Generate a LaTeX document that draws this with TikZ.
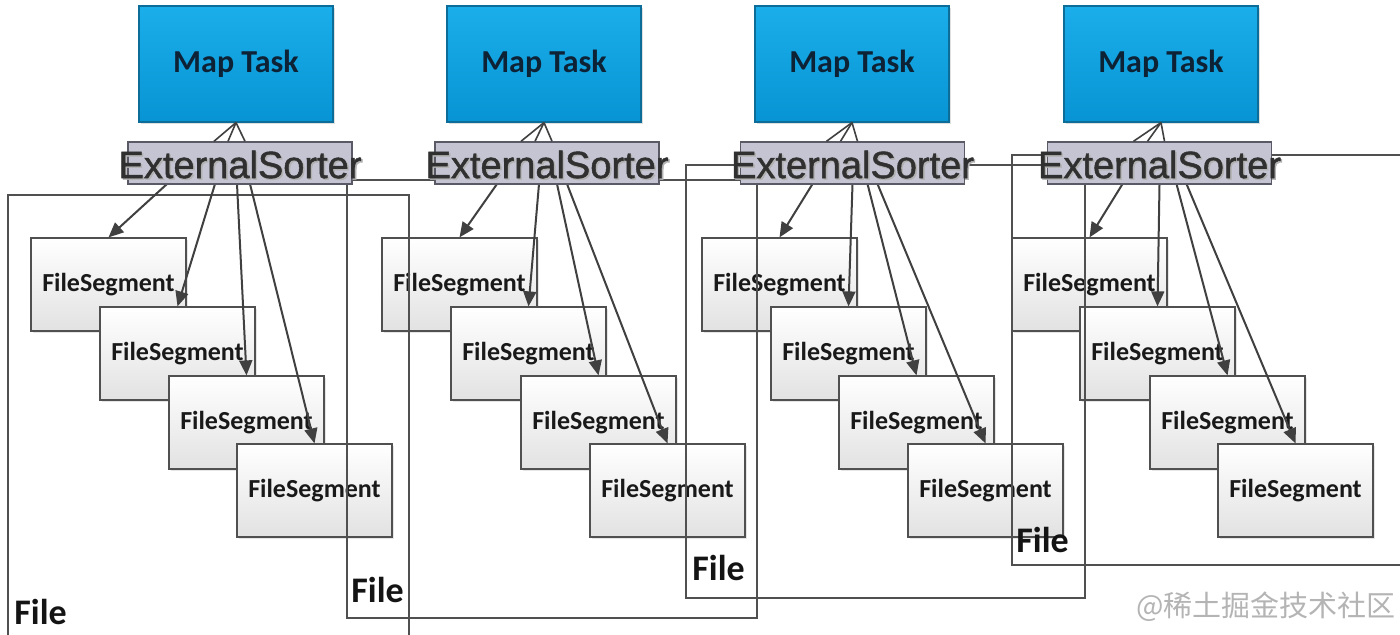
\documentclass[tikz,border=0pt]{standalone}
\usepackage{fontspec}
\setmainfont{Carlito}
\newfontfamily\esfont[FakeBold=1.2]{Liberation Sans}
\newfontfamily\cjk{Noto Sans CJK SC}
\usetikzlibrary{arrows.meta,calc,shadows}
\definecolor{mtTop}{HTML}{1AAEEA}
\definecolor{mtBot}{HTML}{0894D4}
\definecolor{mtBorder}{HTML}{0C6E98}
\definecolor{mtText}{HTML}{0E2236}
\definecolor{esFill}{HTML}{C4C4D2}
\definecolor{esBorder}{HTML}{5A5A66}
\definecolor{esText}{HTML}{303030}
\definecolor{fsBot}{HTML}{E2E2E2}
\definecolor{lineGray}{HTML}{505050}
\definecolor{arrowGray}{HTML}{404040}
\definecolor{wmGray}{HTML}{B4B4B4}
\begin{document}
\begin{tikzpicture}[x=0.5pt,y=-0.5pt,
  mapbox/.style={draw=mtBorder, line width=0.6pt, top color=mtTop, bottom color=mtBot,
    minimum width=97pt, minimum height=58pt, inner sep=0pt,
    font=\bfseries\fontsize{16}{19}\selectfont, text=mtText,
    drop shadow={shadow xshift=1.2pt, shadow yshift=-1.2pt, opacity=0.25}},
  esbox/.style={draw=esBorder, line width=0.7pt, fill=esFill,
    minimum width=112pt, minimum height=21pt, inner sep=0pt},
  estext/.style={font=\esfont\fontsize{19}{22}\selectfont, text=esText, inner sep=0pt},
  esshadow/.style={font=\esfont\fontsize{19}{22}\selectfont, text=black!30, inner sep=0pt},
  fsbox/.style={draw=lineGray, line width=0.6pt, top color=white, bottom color=fsBot,
    minimum width=77.5pt, minimum height=46.5pt, inner sep=0pt,
    font=\bfseries\fontsize{13}{15}\selectfont, text=black!90,
    drop shadow={shadow xshift=1pt, shadow yshift=-1pt, opacity=0.2}},
  fileframe/.style={draw=lineGray, line width=0.7pt},
  filelbl/.style={font=\bfseries\fontsize{18}{21}\selectfont, text=black!92, inner sep=0pt, anchor=west},
  conn/.style={draw=arrowGray, line width=1pt, -{Triangle[length=7.5pt,width=6.5pt]}},
  upline/.style={draw=arrowGray, line width=0.8pt}
]
\clip (0,0) rectangle (1400,635);
\fill[white] (0,0) rectangle (1400,635);

% FileSegment boxes
\node[fsbox] (fs11) at (108.5,284.5) {FileSegment};
\node[fsbox] (fs12) at (177.5,353.5) {FileSegment};
\node[fsbox] (fs13) at (246.5,422.5) {FileSegment};
\node[fsbox] (fs14) at (314.5,490.5) {FileSegment};
\node[fsbox] (fs21) at (459.5,284.5) {FileSegment};
\node[fsbox] (fs22) at (528.5,353.5) {FileSegment};
\node[fsbox] (fs23) at (598.5,422.5) {FileSegment};
\node[fsbox] (fs24) at (667.5,490.5) {FileSegment};
\node[fsbox] (fs31) at (779.5,284.5) {FileSegment};
\node[fsbox] (fs32) at (848.5,353.5) {FileSegment};
\node[fsbox] (fs33) at (916.5,422.5) {FileSegment};
\node[fsbox] (fs34) at (985.5,490.5) {FileSegment};
\node[fsbox] (fs41) at (1089.5,284.5) {FileSegment};
\node[fsbox] (fs42) at (1157.5,353.5) {FileSegment};
\node[fsbox] (fs43) at (1227.5,422.5) {FileSegment};
\node[fsbox] (fs44) at (1295.5,490.5) {FileSegment};

% File frames
\draw[fileframe] (8,195) rectangle (409,700);
\draw[fileframe] (347,180) rectangle (757,618);
\draw[fileframe] (686,165) rectangle (1085,598);
\draw[fileframe] (1012,155) rectangle (1450,565);
\node[filelbl] (file1) at (14,612) {File};
\node[filelbl] (file2) at (351,590) {File};
\node[filelbl] (file3) at (692,568) {File};
\node[filelbl] (file4) at (1016,540) {File};

% ExternalSorter centres
\coordinate (es1c) at (240,163);
\coordinate (es2c) at (547,163);
\coordinate (es3c) at (852.5,163);
\coordinate (es4c) at (1159.5,163);

% arrows ES -> FS
\draw[conn] ($(es1c)+(-73,21)$) -- (fs11.north);
\draw[conn] ($(es1c)+(-25,21)$) -- (fs12.north);
\draw[conn] ($(es1c)+(-3,21)$) -- (fs13.north);
\draw[conn] ($(es1c)+(10,21)$) -- (fs14.north);
\draw[conn] ($(es2c)+(-50,21)$) -- (fs21.north);
\draw[conn] ($(es2c)+(-8,21)$) -- (fs22.north);
\draw[conn] ($(es2c)+(10,21)$) -- (fs23.north);
\draw[conn] ($(es2c)+(20,21)$) -- (fs24.north);
\draw[conn] ($(es3c)+(-40,21)$) -- (fs31.north);
\draw[conn] ($(es3c)+(0,21)$) -- (fs32.north);
\draw[conn] ($(es3c)+(15,21)$) -- (fs33.north);
\draw[conn] ($(es3c)+(25,21)$) -- (fs34.north);
\draw[conn] ($(es4c)+(-37,21)$) -- (fs41.north);
\draw[conn] ($(es4c)+(0,21)$) -- (fs42.north);
\draw[conn] ($(es4c)+(17,21)$) -- (fs43.north);
\draw[conn] ($(es4c)+(27,21)$) -- (fs44.north);

\node[esbox] (es1) at (es1c) {};
\node[esbox] (es2) at (es2c) {};
\node[esbox] (es3) at (es3c) {};
\node[esbox] (es4) at (es4c) {};
\foreach \e in {es1,es2,es3,es4}{
  \node[esshadow] at ($(\e)+(1.5,3)$) {ExternalSorter};
  \node[estext] at ($(\e)+(0,1.5)$) {ExternalSorter};
}

% Map Task boxes
\node[mapbox] (mt1) at (236,64) {Map Task};
\node[mapbox] (mt2) at (544,64) {Map Task};
\node[mapbox] (mt3) at (852,64) {Map Task};
\node[mapbox] (mt4) at (1161,64) {Map Task};

% lines ES -> Map Task
\foreach \i in {1,2,3,4}{
  \draw[upline] ($(es\i.north)+(-26,0)$) -- (mt\i.south);
  \draw[upline] ($(es\i.north)+(-12,0)$) -- (mt\i.south);
  \draw[upline] ($(es\i.north)+(5,0)$) -- (mt\i.south);
}

% watermark
\node[font=\cjk\fontsize{14.5}{17}\selectfont, text=wmGray, anchor=east, inner sep=0pt] (wm) at (1396,607) {@稀土掘金技术社区};
\end{tikzpicture}
\end{document}
